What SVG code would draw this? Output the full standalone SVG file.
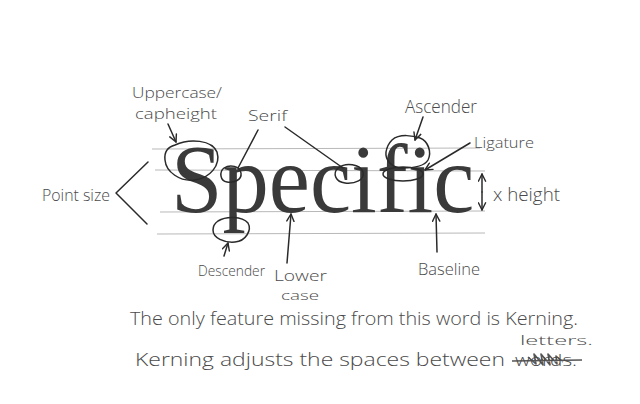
<svg xmlns="http://www.w3.org/2000/svg" width="640" height="404" viewBox="0 0 640 404">
<defs>
<style>
.hand{font-family:"Open Sans","Liberation Sans",sans-serif;font-weight:300;fill:#4a4a4a;}
.guide{stroke:#b8b8b8;stroke-width:1;fill:none;}
.ink{stroke:#2a2a2a;stroke-width:1.5;fill:none;stroke-linecap:round;stroke-linejoin:round;}
.arrow{stroke:#2a2a2a;stroke-width:1.5;fill:none;stroke-linecap:round;marker-end:url(#arr);}
</style>
<marker id="arr" viewBox="0 0 10 10" refX="9" refY="5" markerWidth="9" markerHeight="9" markerUnits="userSpaceOnUse" orient="auto-start-reverse">
<path d="M1,1 L9,5 L1,9" fill="none" stroke="#2a2a2a" stroke-width="1.6" stroke-linecap="round" stroke-linejoin="round"/>
</marker>
</defs>
<rect width="640" height="404" fill="#ffffff"/>

<g id="guides">
<line class="guide" x1="152" y1="149" x2="480" y2="148"/>
<line class="guide" x1="155" y1="170" x2="485" y2="171"/>
<line class="guide" x1="160" y1="212" x2="485" y2="211"/>
<line class="guide" x1="157" y1="234" x2="485" y2="233"/>
</g>

<g id="word">
<text transform="translate(171,212) scale(0.955,1)" font-family="'Liberation Serif','Times New Roman',serif" font-size="97" fill="#3a3a3a">Specific</text>
</g>

<g id="marks">
<path id="circle-cap" class="ink" d="M175,145 C190,138 212,140 217,152 C221,165 210,178 195,180 C180,182 166,172 165,160 C164,152 168,147 175,145 Z"/>
<path id="circle-serif-p" class="ink" d="M224,168 C230,164 240,166 241,173 C242,180 234,183 227,182 C220,181 219,172 224,168 Z"/>
<path id="circle-serif-c" class="ink" d="M338,168 C346,162 360,164 363,172 C365,180 355,184 345,183 C336,182 332,174 338,168 Z"/>
<path id="circle-desc" class="ink" d="M218,221 C226,216 242,216 248,223 C252,230 246,241 235,242 C224,243 213,238 213,230 C213,226 215,223 218,221 Z"/>
<path id="circle-asc" class="ink" d="M392,140 C400,133 414,136 420,138 C428,141 432,152 428,160 C424,167 412,168 402,168 C392,168 385,160 386,152 C387,146 389,143 392,140 Z"/>
<ellipse id="circle-lig" class="ink" cx="403" cy="174" rx="20" ry="7"/>
<path id="strike" d="M512,361 L582,360 M528,357 L536,364 L534,354 L543,365 L541,354 L550,365 L548,354 L557,364 L556,356 L563,362" stroke="#555" stroke-width="1.6" fill="none" stroke-linejoin="round"/>
</g>

<g id="connectors">
<path class="arrow" d="M168,124 L176,142"/>
<path class="ink" d="M258,130 L238,168"/>
<path class="ink" d="M285,127 L343,168"/>
<path class="arrow" d="M423,117 L415,140"/>
<path class="arrow" d="M470,143 L425,170"/>
<path class="arrow" d="M482,192 L482,174"/>
<path class="arrow" d="M482,192 L482,210"/>
<path class="ink" d="M148,162 L116,193 L147,224"/>
<path class="arrow" d="M224,256 L228,243"/>
<path class="arrow" d="M287,263 L291,214"/>
<path class="arrow" d="M437,252 L436,214"/>
</g>

<g id="label-uppercase">
<text class="hand" x="132" y="98" font-size="14" textLength="90" lengthAdjust="spacingAndGlyphs">Uppercase/</text>
<text class="hand" x="135" y="119" font-size="14" textLength="82" lengthAdjust="spacingAndGlyphs">capheight</text>
</g>
<g id="label-serif"><text class="hand" x="248" y="121" font-size="15" textLength="39" lengthAdjust="spacingAndGlyphs">Serif</text></g>
<g id="label-ascender"><text class="hand" x="405" y="113" font-size="18" textLength="72" lengthAdjust="spacingAndGlyphs">Ascender</text></g>
<g id="label-ligature"><text class="hand" x="474" y="148" font-size="15" textLength="60" lengthAdjust="spacingAndGlyphs">Ligature</text></g>
<g id="label-xheight"><text class="hand" x="493" y="201" font-size="18" textLength="67" lengthAdjust="spacingAndGlyphs">x height</text></g>
<g id="label-pointsize"><text class="hand" x="42" y="201" font-size="16" textLength="68" lengthAdjust="spacingAndGlyphs">Point size</text></g>
<g id="label-descender"><text class="hand" x="198" y="276" font-size="15" textLength="67" lengthAdjust="spacingAndGlyphs">Descender</text></g>
<g id="label-lowercase">
<text class="hand" x="274" y="281" font-size="15" textLength="53" lengthAdjust="spacingAndGlyphs">Lower</text>
<text class="hand" x="281" y="300" font-size="13" textLength="38" lengthAdjust="spacingAndGlyphs">case</text>
</g>
<g id="label-baseline"><text class="hand" x="418" y="275" font-size="17" textLength="62" lengthAdjust="spacingAndGlyphs">Baseline</text></g>

<g id="note">
<text class="hand" x="130" y="325" font-size="18" textLength="448" lengthAdjust="spacingAndGlyphs">The only feature missing from this word is Kerning.</text>
<text class="hand" x="135" y="366" font-size="19" textLength="370" lengthAdjust="spacingAndGlyphs">Kerning adjusts the spaces between</text>
<text class="hand" x="515" y="366" font-size="16" textLength="62" lengthAdjust="spacingAndGlyphs">words.</text>
<text class="hand" x="520" y="345" font-size="13" textLength="73" lengthAdjust="spacingAndGlyphs">letters.</text>
</g>
</svg>
